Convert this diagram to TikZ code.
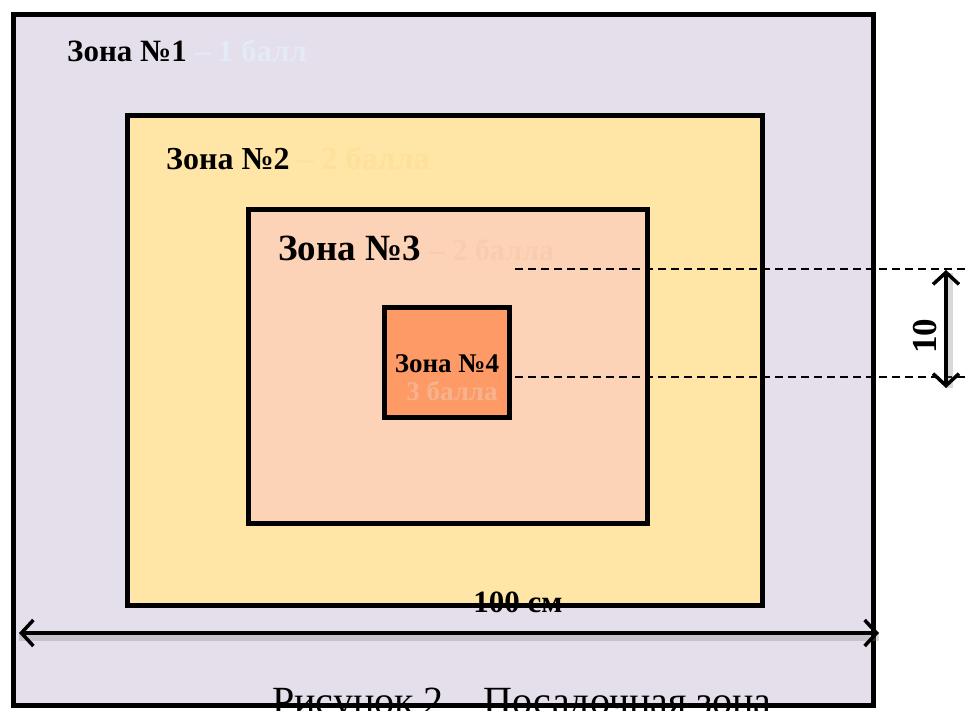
\documentclass[tikz,border=0pt]{standalone}
\usepackage{fontspec}
\setmainfont{Liberation Serif}
\usetikzlibrary{arrows.meta}
\definecolor{lav}{HTML}{E5DFEC}
\definecolor{yel}{HTML}{FFE6A6}
\definecolor{pch}{HTML}{FDD3B7}
\definecolor{org}{HTML}{FD9A66}
\definecolor{tone}{HTML}{E2EBF6}
\definecolor{ttwo}{HTML}{FEE09A}
\definecolor{tthree}{HTML}{F8CCAF}
\definecolor{tfour}{HTML}{F7B38F}
\tikzset{
  zonebox/.style={draw=black, line width=5pt},
  dimarrow/.style={line width=3.5pt, {Straight Barb[length=12pt,width=26pt]}-{Straight Barb[length=12pt,width=26pt]}},
  dimshadow/.style={line width=7pt, draw=gray, opacity=0.3},
  dimline/.style={line width=1.2pt, dash pattern=on 8pt off 5pt},
  ztext/.style={inner sep=0pt, anchor=base west, font=\bfseries}
}
\begin{document}
\begin{tikzpicture}[x=1pt,y=-1pt]
\useasboundingbox (0,0) rectangle (968,711);
\fill[white] (0,0) rectangle (968,711);
% zones
\path[zonebox, fill=lav] (13,14.5) rectangle (873,705.5);
\path[zonebox, fill=yel] (127,116) rectangle (762,605);
\path[zonebox, fill=pch] (248,210) rectangle (647,523);
\path[zonebox, fill=org] (384.5,307) rectangle (509.5,417);
% zone labels
\node[ztext, font=\bfseries\fontsize{31}{36}\selectfont] (t1) at (67,62) {Зона №1 \textcolor{tone}{– 1 балл}};
\node[ztext, font=\bfseries\fontsize{32}{36}\selectfont] (t2) at (166,170) {Зона №2 \textcolor{ttwo}{– 2 балла}};
\node[ztext, font=\bfseries\fontsize{37}{42}\selectfont] (t3) at (278,260) {Зона №3 \textcolor{tthree}{\fontsize{30}{34}\selectfont– 2 балла}};
\node[inner sep=0pt, anchor=base, font=\bfseries\fontsize{27}{30}\selectfont] (t4) at (447,372) {Зона №4};
\node[inner sep=0pt, anchor=base, font=\bfseries\fontsize{27}{30}\selectfont, text=tfour] (t4b) at (452,400) {3 балла};
% dashed dimension lines
\coordinate (d1a) at (515,269);
\coordinate (d1b) at (968,269);
\coordinate (d2a) at (515,377);
\coordinate (d2b) at (968,377);
\draw[dimline] (d1a) -- (d1b);
\draw[dimline] (d2a) -- (d2b);
% vertical dimension arrow
\coordinate (va) at (946,270);
\coordinate (vb) at (946,388);
\draw[dimshadow] ([xshift=3pt,yshift=-3pt]va) -- ([xshift=3pt]vb);
\draw[dimarrow] (va) -- (vb);
\node[rotate=90, inner sep=0pt, font=\bfseries\fontsize{35}{38}\selectfont] (ten) at (925,336) {10};
% horizontal dimension arrow
\coordinate (ha) at (19,633);
\coordinate (hb) at (879,633);
\draw[dimshadow] ([yshift=-4pt]ha) -- ([yshift=-4pt]hb);
\draw[dimarrow] (ha) -- (hb);
\node[inner sep=0pt, anchor=base, font=\bfseries\fontsize{31}{34}\selectfont] (hundred) at (518,612) {100 см};
% caption
\node[inner sep=0pt, anchor=base west, font=\fontsize{40}{44}\selectfont] (cap) at (272,714) {Рисунок 2 – Посадочная зона};
\end{tikzpicture}
\end{document}
